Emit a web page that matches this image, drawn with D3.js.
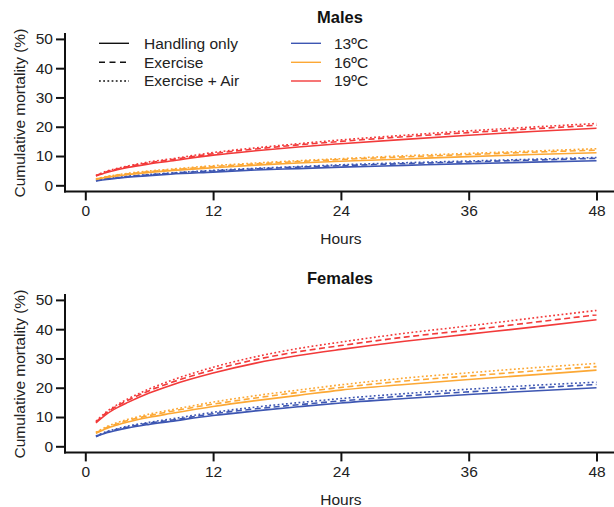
<!DOCTYPE html>
<html>
<head>
<meta charset="utf-8">
<script src="https://cdn.jsdelivr.net/npm/d3@7"></script>
<style>
  body { margin: 0; background: #fff; }
  svg { display: block; font-family: "Liberation Sans", Arial, sans-serif; }
</style>
</head>
<body>
<svg id="chart" width="614" height="507"></svg>
<script>
const hours = [1, 2, 3, 4, 6, 8, 12, 16, 20, 24, 30, 36, 42, 48]
const xTicks = [0, 12, 24, 36, 48]
const yTicks = [0, 10, 20, 30, 40, 50]

const treatments = ['Handling only', 'Exercise', 'Exercise + Air']
const temps = ['13ºC', '16ºC', '19ºC']
const tempColors = ['#3d56b2', '#fca835', '#f23a3a']
const dashes = [null, '6,3.5', '1.8,2.4']

// males
const males13 = [
  [1.5, 2.0, 2.4, 2.8, 3.3, 3.8, 4.5, 5.2, 5.7, 6.2, 6.8, 7.4, 7.9, 8.4],
  [1.6, 2.2, 2.6, 3.0, 3.6, 4.1, 4.9, 5.6, 6.2, 6.7, 7.4, 8.0, 8.6, 9.2],
  [1.7, 2.3, 2.7, 3.1, 3.7, 4.2, 5.1, 5.8, 6.4, 7.0, 7.7, 8.3, 8.9, 9.5]
]
const males16 = [
  [2.0, 2.7, 3.2, 3.7, 4.4, 5.0, 6.0, 6.9, 7.6, 8.2, 9.0, 9.8, 10.5, 11.1],
  [2.1, 2.9, 3.5, 3.9, 4.7, 5.3, 6.4, 7.3, 8.1, 8.8, 9.7, 10.5, 11.3, 12.0],
  [2.2, 3.0, 3.6, 4.1, 4.9, 5.5, 6.7, 7.6, 8.4, 9.1, 10.1, 10.9, 11.7, 12.5]
]
const males19 = [
  [3.2, 4.4, 5.3, 6.1, 7.3, 8.3, 10.3, 11.8, 13.1, 14.2, 15.7, 17.1, 18.4, 19.5],
  [3.3, 4.6, 5.6, 6.4, 7.7, 8.7, 10.8, 12.4, 13.8, 15.0, 16.6, 18.0, 19.3, 20.5],
  [3.4, 4.8, 5.8, 6.6, 8.0, 9.0, 11.2, 12.8, 14.2, 15.5, 17.1, 18.6, 19.9, 21.1]
]

// females
const females13 = [
  [3.3, 4.6, 5.5, 6.3, 7.5, 8.5, 10.5, 12.1, 13.5, 14.8, 16.3, 17.7, 18.9, 20.0],
  [3.4, 4.8, 5.8, 6.6, 7.9, 8.9, 11.1, 12.8, 14.2, 15.5, 17.2, 18.6, 19.9, 21.1],
  [3.5, 5.0, 6.0, 6.9, 8.2, 9.3, 11.6, 13.4, 14.9, 16.3, 18.0, 19.5, 20.8, 21.9]
]
const females16 = [
  [4.4, 6.1, 7.3, 8.3, 9.9, 11.2, 13.6, 15.6, 17.4, 19.2, 21.1, 22.8, 24.4, 26.0],
  [4.6, 6.4, 7.7, 8.8, 10.5, 11.9, 14.4, 16.5, 18.4, 20.1, 22.3, 24.0, 25.7, 27.2],
  [4.8, 6.7, 8.1, 9.2, 11.0, 12.4, 15.1, 17.3, 19.2, 21.0, 23.3, 25.1, 26.8, 28.3]
]
const females19 = [
  [8.0, 11.0, 13.2, 15.0, 18.2, 20.8, 25.0, 28.4, 31.0, 33.1, 35.9, 38.3, 40.7, 43.2],
  [8.3, 11.5, 13.8, 15.7, 19.0, 21.7, 26.1, 29.6, 32.3, 34.4, 37.3, 39.7, 42.3, 44.9],
  [8.5, 11.8, 14.2, 16.2, 19.6, 22.4, 27.0, 30.6, 33.4, 35.6, 38.6, 41.1, 43.8, 46.4]
]

const svg = d3.select('#chart')

let x = d3.scaleLinear().domain([0, 48]).range([85.3, 596.5])

let drawPanel = (title, top, groups, withLegend) => {
  // top = pixel y of the 50 tick
  let y = d3.scaleLinear().domain([0, 50]).range([top + 146.4, top])
  let axisY = top + 152.5
  let g = svg.append('g')

  g.append('text')
    .attr('x', 340).attr('y', top - 16)
    .attr('text-anchor', 'middle')
    .style('font-weight', 'bold').style('font-size', '16.5px')
    .attr('fill', '#111')
    .text(title)

  // y axis
  let yAxis = g.append('g')
    .attr('transform', 'translate(65,0)')
    .call(d3.axisLeft(y).tickValues(yTicks).tickSize(9).tickPadding(3))
  yAxis.select('.domain').remove()
  yAxis.selectAll('line').attr('stroke', '#111').attr('stroke-width', 2)
  yAxis.selectAll('text').style('font-size', '15.5px').attr('fill', '#222')

  g.append('line')
    .attr('x1', 65).attr('x2', 65)
    .attr('y1', top - 6).attr('y2', axisY + 1)
    .attr('stroke', '#111').attr('stroke-width', 2)

  // x axis
  let xAxis = g.append('g')
    .attr('transform', `translate(0,${axisY})`)
    .call(d3.axisBottom(x).tickValues(xTicks).tickSize(9).tickPadding(5))
  xAxis.select('.domain').remove()
  xAxis.selectAll('line').attr('stroke', '#111').attr('stroke-width', 2)
  xAxis.selectAll('text').style('font-size', '15.5px').attr('fill', '#222')

  g.append('line')
    .attr('x1', 64).attr('x2', 614)
    .attr('y1', axisY).attr('y2', axisY)
    .attr('stroke', '#111').attr('stroke-width', 2)

  g.append('text')
    .attr('x', x(24)).attr('y', axisY + 53)
    .attr('text-anchor', 'middle')
    .style('font-size', '15.5px').attr('fill', '#222')
    .text('Hours')

  g.append('text')
    .attr('transform', `translate(24.5,${y(25) + 1}) rotate(-90)`)
    .attr('text-anchor', 'middle')
    .style('font-size', '15.5px').attr('fill', '#222')
    .text('Cumulative mortality (%)')

  let line = d3.line()
    .x((d, i) => x(hours[i]))
    .y(d => y(d))
    .curve(d3.curveMonotoneX)

  groups.forEach((series, ci) => {
    series.forEach((vals, ti) => {
      g.append('path')
        .attr('d', line(vals))
        .attr('fill', 'none')
        .attr('stroke', tempColors[ci])
        .attr('stroke-width', 1.6)
        .attr('stroke-dasharray', dashes[ti])
    })
  })

  if (withLegend) {
    let rows = [43.3, 62.3, 81]
    treatments.forEach((t, i) => {
      g.append('line')
        .attr('x1', 99).attr('x2', 129)
        .attr('y1', rows[i]).attr('y2', rows[i])
        .attr('stroke', '#111').attr('stroke-width', 1.4)
        .attr('stroke-dasharray', i == 1 ? '6,4.5' : dashes[i])
      g.append('text')
        .attr('x', 144).attr('y', rows[i]).attr('dy', '0.35em')
        .style('font-size', '15.5px').attr('fill', '#222')
        .text(t)
    })
    temps.forEach((t, i) => {
      g.append('line')
        .attr('x1', 291).attr('x2', 321)
        .attr('y1', rows[i]).attr('y2', rows[i])
        .attr('stroke', tempColors[i]).attr('stroke-width', 1.4)
      g.append('text')
        .attr('x', 334).attr('y', rows[i]).attr('dy', '0.35em')
        .style('font-size', '15.5px').attr('fill', '#222')
        .text(t)
    })
  }
}

drawPanel('Males', 38.9, [males13, males16, males19], true)
drawPanel('Females', 299.9, [females13, females16, females19], false)
</script>
</body>
</html>
